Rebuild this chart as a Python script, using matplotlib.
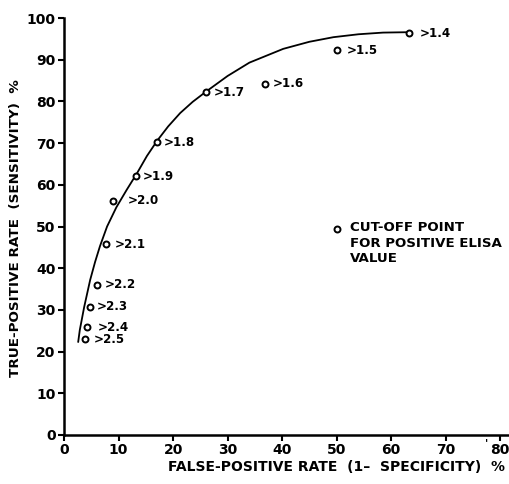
import matplotlib
matplotlib.use("Agg")
import matplotlib.pyplot as plt

# Cut-off points (false-positive %, true-positive %)
cutoff_labels = [">1.4", ">1.5", ">1.6", ">1.7", ">1.8", ">1.9", ">2.0",
                 ">2.1", ">2.2", ">2.3", ">2.4", ">2.5"]
fpr = [63.3, 50.1, 36.9, 26.1, 17.1, 13.2, 9.0, 7.7, 6.0, 4.8, 4.3, 3.9]
tpr = [96.3, 92.3, 84.2, 82.2, 70.2, 62.0, 56.2, 45.8, 36.0, 30.8, 25.8, 23.0]

# Fitted ROC curve
curve_x = [2.6, 2.9, 3.7, 4.8, 5.7, 6.6, 7.9, 9.6, 11.5, 13.4, 15.2, 17.1,
           19.1, 21.3, 23.6, 26.0, 30.0, 34.0, 40.2, 45.0, 49.4, 54.0, 58.5, 63.3]
curve_y = [22.3, 25.2, 30.7, 37.2, 41.5, 45.3, 50.0, 54.6, 58.8, 62.8, 66.9, 70.6,
           74.0, 77.2, 79.9, 82.3, 86.1, 89.3, 92.6, 94.3, 95.4, 96.1, 96.5, 96.6]

x_ticks = [0, 10, 20, 30, 40, 50, 60, 70, 80]
y_ticks = [0, 10, 20, 30, 40, 50, 60, 70, 80, 90, 100]

# label offsets in pixels (layout only)
label_dx = [11, 10, 8, 7, 6, 7, 15, 9, 8, 7, 10, 8]

fig = plt.figure(figsize=(5.09, 4.84), dpi=100)
ax = fig.add_axes([64/509, 49/484, 445/509, 417/484])
ax.set_xlim(0, 81.6)
ax.set_ylim(0, 100)

ax.plot(curve_x, curve_y, color="black", lw=1.3, solid_capstyle="round")
ax.plot(fpr, tpr, linestyle="none", marker="o", markersize=4.3,
        markerfacecolor="white", markeredgecolor="black", markeredgewidth=1.4,
        zorder=3)

for x, y, lab, dx in zip(fpr, tpr, cutoff_labels, label_dx):
    ax.annotate(lab, (x, y), xytext=(dx * 0.72, 0), textcoords="offset points",
                ha="left", va="center", fontsize=8.6, fontweight="bold",
                family="DejaVu Sans")

# legend
ax.plot([50.1], [49.4], linestyle="none", marker="o", markersize=4.3,
        markerfacecolor="white", markeredgecolor="black", markeredgewidth=1.4)
ax.text(52.4, 51.3, "CUT-OFF POINT\nFOR POSITIVE ELISA\nVALUE",
        ha="left", va="top", fontsize=9.6, fontweight="bold",
        family="DejaVu Sans", linespacing=1.25)

for s in ["top", "right"]:
    ax.spines[s].set_visible(False)
for s in ["left", "bottom"]:
    ax.spines[s].set_linewidth(1.8)

ax.set_xticks(x_ticks)
ax.set_yticks(y_ticks)
ax.tick_params(direction="out", length=4, width=1.5, labelsize=10, pad=2)
for lab in ax.get_xticklabels() + ax.get_yticklabels():
    lab.set_fontweight("bold")

# stray mark from the scan
fig.text(487/509, 1 - 443/484, "'", ha="center", va="center",
         fontsize=8, fontweight="bold")

fig.text(337/509, 1 - 467/484, "FALSE-POSITIVE RATE  (1\u2013  SPECIFICITY)  %",
         ha="center", va="center", fontsize=10, fontweight="bold")
fig.text(16/509, 1 - 228/484, "TRUE-POSITIVE RATE  (SENSITIVITY)  %",
         ha="center", va="center", rotation=90, fontsize=9.7, fontweight="bold")

fig.savefig("out.png", dpi=100)
